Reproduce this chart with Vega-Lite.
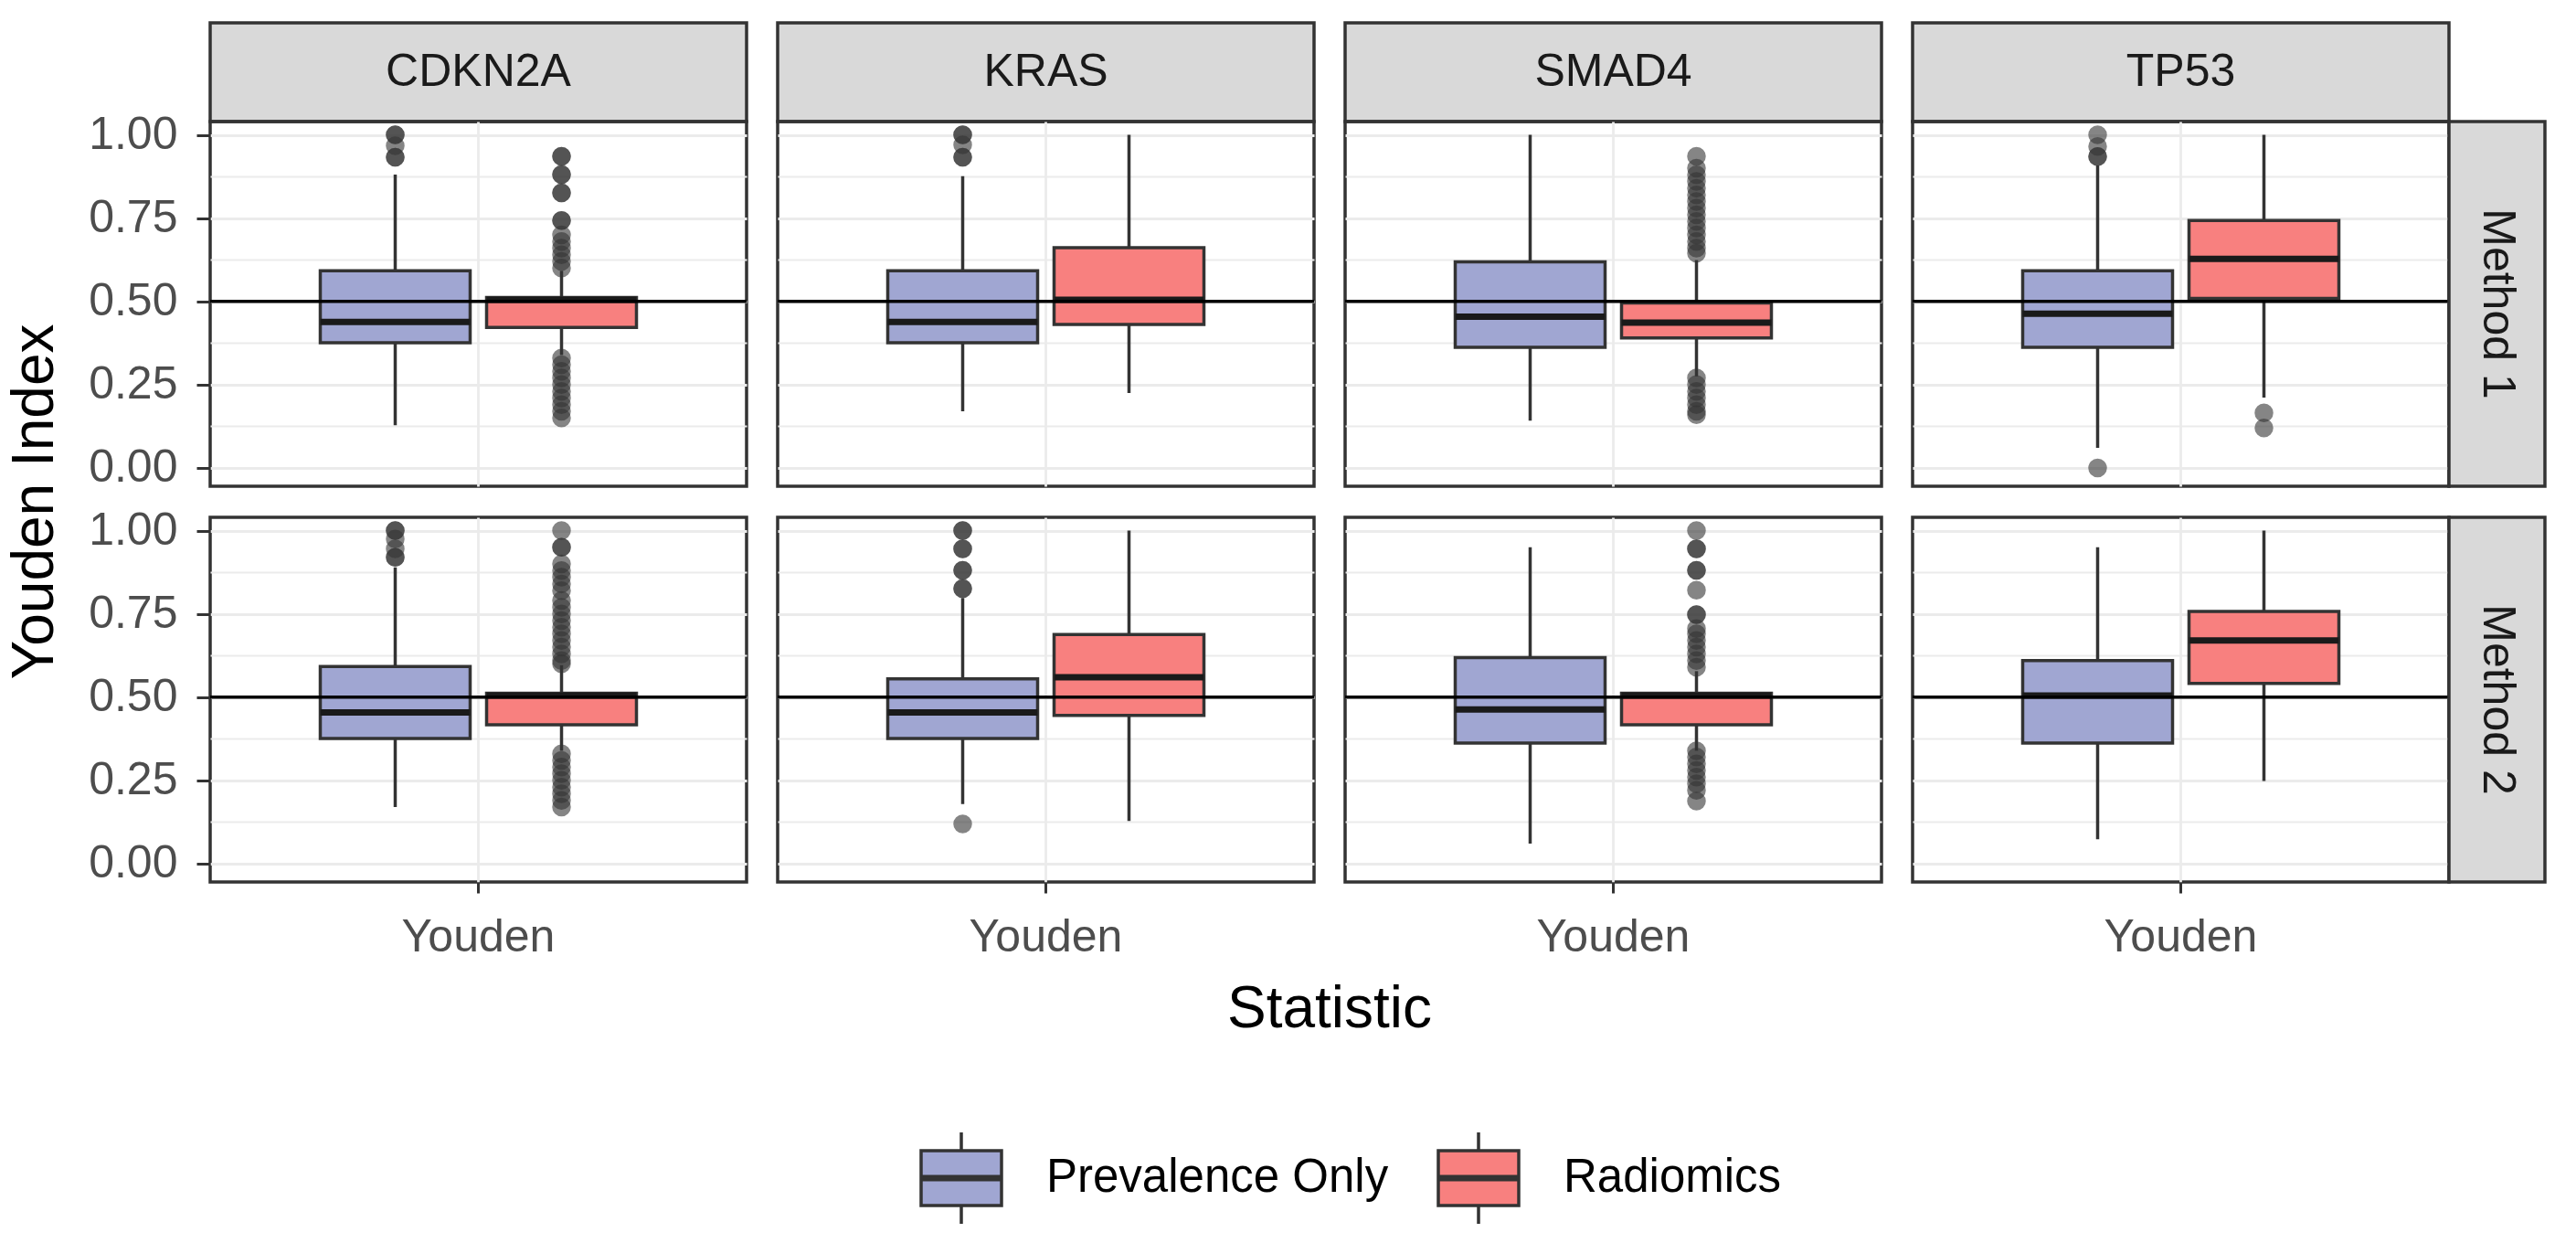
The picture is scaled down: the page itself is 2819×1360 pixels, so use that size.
{
"$schema": "https://vega.github.io/schema/vega-lite/v6.json",
"background": "white",
"padding": {"left": 6, "top": 23, "right": 5, "bottom": 5},
"columns": 8,
"spacing": 0,
"bounds": "flush",
"align": "each",
"datasets": {
"yi": [
{"gene":"CDKN2A","method":"Method 1","model":"Prevalence Only","stat":"Youden","kind":"box","lower":0.128,"q1":0.376,"median":0.438,"q3":0.592,"upper":0.881},
{"gene":"CDKN2A","method":"Method 1","model":"Radiomics","stat":"Youden","kind":"box","lower":0.339,"q1":0.422,"median":0.505,"q3":0.512,"upper":0.592},
{"gene":"KRAS","method":"Method 1","model":"Prevalence Only","stat":"Youden","kind":"box","lower":0.170,"q1":0.376,"median":0.438,"q3":0.592,"upper":0.876},
{"gene":"KRAS","method":"Method 1","model":"Radiomics","stat":"Youden","kind":"box","lower":0.225,"q1":0.431,"median":0.505,"q3":0.661,"upper":1.0},
{"gene":"SMAD4","method":"Method 1","model":"Prevalence Only","stat":"Youden","kind":"box","lower":0.142,"q1":0.362,"median":0.454,"q3":0.619,"upper":1.0},
{"gene":"SMAD4","method":"Method 1","model":"Radiomics","stat":"Youden","kind":"box","lower":0.275,"q1":0.390,"median":0.436,"q3":0.495,"upper":0.624},
{"gene":"TP53","method":"Method 1","model":"Prevalence Only","stat":"Youden","kind":"box","lower":0.060,"q1":0.362,"median":0.463,"q3":0.592,"upper":0.908},
{"gene":"TP53","method":"Method 1","model":"Radiomics","stat":"Youden","kind":"box","lower":0.211,"q1":0.509,"median":0.628,"q3":0.743,"upper":1.0},
{"gene":"CDKN2A","method":"Method 2","model":"Prevalence Only","stat":"Youden","kind":"box","lower":0.170,"q1":0.376,"median":0.454,"q3":0.592,"upper":0.890},
{"gene":"CDKN2A","method":"Method 2","model":"Radiomics","stat":"Youden","kind":"box","lower":0.339,"q1":0.417,"median":0.505,"q3":0.512,"upper":0.596},
{"gene":"KRAS","method":"Method 2","model":"Prevalence Only","stat":"Youden","kind":"box","lower":0.179,"q1":0.376,"median":0.454,"q3":0.555,"upper":0.798},
{"gene":"KRAS","method":"Method 2","model":"Radiomics","stat":"Youden","kind":"box","lower":0.128,"q1":0.445,"median":0.560,"q3":0.688,"upper":1.0},
{"gene":"SMAD4","method":"Method 2","model":"Prevalence Only","stat":"Youden","kind":"box","lower":0.060,"q1":0.362,"median":0.463,"q3":0.619,"upper":0.950},
{"gene":"SMAD4","method":"Method 2","model":"Radiomics","stat":"Youden","kind":"box","lower":0.339,"q1":0.417,"median":0.505,"q3":0.512,"upper":0.578},
{"gene":"TP53","method":"Method 2","model":"Prevalence Only","stat":"Youden","kind":"box","lower":0.073,"q1":0.362,"median":0.505,"q3":0.610,"upper":0.950},
{"gene":"TP53","method":"Method 2","model":"Radiomics","stat":"Youden","kind":"box","lower":0.248,"q1":0.541,"median":0.670,"q3":0.757,"upper":1.0},
{"gene":"CDKN2A","method":"Method 1","model":"Prevalence Only","stat":"Youden","kind":"out","value":1.0},
{"gene":"CDKN2A","method":"Method 1","model":"Prevalence Only","stat":"Youden","kind":"out","value":1.0},
{"gene":"CDKN2A","method":"Method 1","model":"Prevalence Only","stat":"Youden","kind":"out","value":0.967},
{"gene":"CDKN2A","method":"Method 1","model":"Prevalence Only","stat":"Youden","kind":"out","value":0.933},
{"gene":"CDKN2A","method":"Method 1","model":"Prevalence Only","stat":"Youden","kind":"out","value":0.933},
{"gene":"CDKN2A","method":"Method 1","model":"Radiomics","stat":"Youden","kind":"out","value":0.936},
{"gene":"CDKN2A","method":"Method 1","model":"Radiomics","stat":"Youden","kind":"out","value":0.936},
{"gene":"CDKN2A","method":"Method 1","model":"Radiomics","stat":"Youden","kind":"out","value":0.881},
{"gene":"CDKN2A","method":"Method 1","model":"Radiomics","stat":"Youden","kind":"out","value":0.881},
{"gene":"CDKN2A","method":"Method 1","model":"Radiomics","stat":"Youden","kind":"out","value":0.826},
{"gene":"CDKN2A","method":"Method 1","model":"Radiomics","stat":"Youden","kind":"out","value":0.826},
{"gene":"CDKN2A","method":"Method 1","model":"Radiomics","stat":"Youden","kind":"out","value":0.743},
{"gene":"CDKN2A","method":"Method 1","model":"Radiomics","stat":"Youden","kind":"out","value":0.743},
{"gene":"CDKN2A","method":"Method 1","model":"Radiomics","stat":"Youden","kind":"out","value":0.70},
{"gene":"CDKN2A","method":"Method 1","model":"Radiomics","stat":"Youden","kind":"out","value":0.68},
{"gene":"CDKN2A","method":"Method 1","model":"Radiomics","stat":"Youden","kind":"out","value":0.66},
{"gene":"CDKN2A","method":"Method 1","model":"Radiomics","stat":"Youden","kind":"out","value":0.64},
{"gene":"CDKN2A","method":"Method 1","model":"Radiomics","stat":"Youden","kind":"out","value":0.62},
{"gene":"CDKN2A","method":"Method 1","model":"Radiomics","stat":"Youden","kind":"out","value":0.60},
{"gene":"CDKN2A","method":"Method 1","model":"Radiomics","stat":"Youden","kind":"out","value":0.33},
{"gene":"CDKN2A","method":"Method 1","model":"Radiomics","stat":"Youden","kind":"out","value":0.31},
{"gene":"CDKN2A","method":"Method 1","model":"Radiomics","stat":"Youden","kind":"out","value":0.29},
{"gene":"CDKN2A","method":"Method 1","model":"Radiomics","stat":"Youden","kind":"out","value":0.27},
{"gene":"CDKN2A","method":"Method 1","model":"Radiomics","stat":"Youden","kind":"out","value":0.25},
{"gene":"CDKN2A","method":"Method 1","model":"Radiomics","stat":"Youden","kind":"out","value":0.23},
{"gene":"CDKN2A","method":"Method 1","model":"Radiomics","stat":"Youden","kind":"out","value":0.21},
{"gene":"CDKN2A","method":"Method 1","model":"Radiomics","stat":"Youden","kind":"out","value":0.19},
{"gene":"CDKN2A","method":"Method 1","model":"Radiomics","stat":"Youden","kind":"out","value":0.17},
{"gene":"CDKN2A","method":"Method 1","model":"Radiomics","stat":"Youden","kind":"out","value":0.15},
{"gene":"KRAS","method":"Method 1","model":"Prevalence Only","stat":"Youden","kind":"out","value":1.0},
{"gene":"KRAS","method":"Method 1","model":"Prevalence Only","stat":"Youden","kind":"out","value":1.0},
{"gene":"KRAS","method":"Method 1","model":"Prevalence Only","stat":"Youden","kind":"out","value":0.97},
{"gene":"KRAS","method":"Method 1","model":"Prevalence Only","stat":"Youden","kind":"out","value":0.933},
{"gene":"KRAS","method":"Method 1","model":"Prevalence Only","stat":"Youden","kind":"out","value":0.933},
{"gene":"SMAD4","method":"Method 1","model":"Radiomics","stat":"Youden","kind":"out","value":0.936},
{"gene":"SMAD4","method":"Method 1","model":"Radiomics","stat":"Youden","kind":"out","value":0.90},
{"gene":"SMAD4","method":"Method 1","model":"Radiomics","stat":"Youden","kind":"out","value":0.88},
{"gene":"SMAD4","method":"Method 1","model":"Radiomics","stat":"Youden","kind":"out","value":0.86},
{"gene":"SMAD4","method":"Method 1","model":"Radiomics","stat":"Youden","kind":"out","value":0.84},
{"gene":"SMAD4","method":"Method 1","model":"Radiomics","stat":"Youden","kind":"out","value":0.82},
{"gene":"SMAD4","method":"Method 1","model":"Radiomics","stat":"Youden","kind":"out","value":0.80},
{"gene":"SMAD4","method":"Method 1","model":"Radiomics","stat":"Youden","kind":"out","value":0.78},
{"gene":"SMAD4","method":"Method 1","model":"Radiomics","stat":"Youden","kind":"out","value":0.76},
{"gene":"SMAD4","method":"Method 1","model":"Radiomics","stat":"Youden","kind":"out","value":0.74},
{"gene":"SMAD4","method":"Method 1","model":"Radiomics","stat":"Youden","kind":"out","value":0.72},
{"gene":"SMAD4","method":"Method 1","model":"Radiomics","stat":"Youden","kind":"out","value":0.70},
{"gene":"SMAD4","method":"Method 1","model":"Radiomics","stat":"Youden","kind":"out","value":0.68},
{"gene":"SMAD4","method":"Method 1","model":"Radiomics","stat":"Youden","kind":"out","value":0.66},
{"gene":"SMAD4","method":"Method 1","model":"Radiomics","stat":"Youden","kind":"out","value":0.645},
{"gene":"SMAD4","method":"Method 1","model":"Radiomics","stat":"Youden","kind":"out","value":0.27},
{"gene":"SMAD4","method":"Method 1","model":"Radiomics","stat":"Youden","kind":"out","value":0.25},
{"gene":"SMAD4","method":"Method 1","model":"Radiomics","stat":"Youden","kind":"out","value":0.23},
{"gene":"SMAD4","method":"Method 1","model":"Radiomics","stat":"Youden","kind":"out","value":0.21},
{"gene":"SMAD4","method":"Method 1","model":"Radiomics","stat":"Youden","kind":"out","value":0.19},
{"gene":"SMAD4","method":"Method 1","model":"Radiomics","stat":"Youden","kind":"out","value":0.17},
{"gene":"SMAD4","method":"Method 1","model":"Radiomics","stat":"Youden","kind":"out","value":0.16},
{"gene":"TP53","method":"Method 1","model":"Prevalence Only","stat":"Youden","kind":"out","value":1.0},
{"gene":"TP53","method":"Method 1","model":"Prevalence Only","stat":"Youden","kind":"out","value":0.965},
{"gene":"TP53","method":"Method 1","model":"Prevalence Only","stat":"Youden","kind":"out","value":0.935},
{"gene":"TP53","method":"Method 1","model":"Prevalence Only","stat":"Youden","kind":"out","value":0.935},
{"gene":"TP53","method":"Method 1","model":"Prevalence Only","stat":"Youden","kind":"out","value":0.0},
{"gene":"TP53","method":"Method 1","model":"Radiomics","stat":"Youden","kind":"out","value":0.165},
{"gene":"TP53","method":"Method 1","model":"Radiomics","stat":"Youden","kind":"out","value":0.12},
{"gene":"CDKN2A","method":"Method 2","model":"Prevalence Only","stat":"Youden","kind":"out","value":1.0},
{"gene":"CDKN2A","method":"Method 2","model":"Prevalence Only","stat":"Youden","kind":"out","value":1.0},
{"gene":"CDKN2A","method":"Method 2","model":"Prevalence Only","stat":"Youden","kind":"out","value":0.975},
{"gene":"CDKN2A","method":"Method 2","model":"Prevalence Only","stat":"Youden","kind":"out","value":0.945},
{"gene":"CDKN2A","method":"Method 2","model":"Prevalence Only","stat":"Youden","kind":"out","value":0.92},
{"gene":"CDKN2A","method":"Method 2","model":"Prevalence Only","stat":"Youden","kind":"out","value":0.92},
{"gene":"CDKN2A","method":"Method 2","model":"Radiomics","stat":"Youden","kind":"out","value":1.0},
{"gene":"CDKN2A","method":"Method 2","model":"Radiomics","stat":"Youden","kind":"out","value":0.95},
{"gene":"CDKN2A","method":"Method 2","model":"Radiomics","stat":"Youden","kind":"out","value":0.95},
{"gene":"CDKN2A","method":"Method 2","model":"Radiomics","stat":"Youden","kind":"out","value":0.90},
{"gene":"CDKN2A","method":"Method 2","model":"Radiomics","stat":"Youden","kind":"out","value":0.88},
{"gene":"CDKN2A","method":"Method 2","model":"Radiomics","stat":"Youden","kind":"out","value":0.86},
{"gene":"CDKN2A","method":"Method 2","model":"Radiomics","stat":"Youden","kind":"out","value":0.84},
{"gene":"CDKN2A","method":"Method 2","model":"Radiomics","stat":"Youden","kind":"out","value":0.82},
{"gene":"CDKN2A","method":"Method 2","model":"Radiomics","stat":"Youden","kind":"out","value":0.79},
{"gene":"CDKN2A","method":"Method 2","model":"Radiomics","stat":"Youden","kind":"out","value":0.77},
{"gene":"CDKN2A","method":"Method 2","model":"Radiomics","stat":"Youden","kind":"out","value":0.75},
{"gene":"CDKN2A","method":"Method 2","model":"Radiomics","stat":"Youden","kind":"out","value":0.73},
{"gene":"CDKN2A","method":"Method 2","model":"Radiomics","stat":"Youden","kind":"out","value":0.71},
{"gene":"CDKN2A","method":"Method 2","model":"Radiomics","stat":"Youden","kind":"out","value":0.69},
{"gene":"CDKN2A","method":"Method 2","model":"Radiomics","stat":"Youden","kind":"out","value":0.67},
{"gene":"CDKN2A","method":"Method 2","model":"Radiomics","stat":"Youden","kind":"out","value":0.65},
{"gene":"CDKN2A","method":"Method 2","model":"Radiomics","stat":"Youden","kind":"out","value":0.63},
{"gene":"CDKN2A","method":"Method 2","model":"Radiomics","stat":"Youden","kind":"out","value":0.61},
{"gene":"CDKN2A","method":"Method 2","model":"Radiomics","stat":"Youden","kind":"out","value":0.60},
{"gene":"CDKN2A","method":"Method 2","model":"Radiomics","stat":"Youden","kind":"out","value":0.33},
{"gene":"CDKN2A","method":"Method 2","model":"Radiomics","stat":"Youden","kind":"out","value":0.31},
{"gene":"CDKN2A","method":"Method 2","model":"Radiomics","stat":"Youden","kind":"out","value":0.29},
{"gene":"CDKN2A","method":"Method 2","model":"Radiomics","stat":"Youden","kind":"out","value":0.27},
{"gene":"CDKN2A","method":"Method 2","model":"Radiomics","stat":"Youden","kind":"out","value":0.25},
{"gene":"CDKN2A","method":"Method 2","model":"Radiomics","stat":"Youden","kind":"out","value":0.23},
{"gene":"CDKN2A","method":"Method 2","model":"Radiomics","stat":"Youden","kind":"out","value":0.21},
{"gene":"CDKN2A","method":"Method 2","model":"Radiomics","stat":"Youden","kind":"out","value":0.19},
{"gene":"CDKN2A","method":"Method 2","model":"Radiomics","stat":"Youden","kind":"out","value":0.17},
{"gene":"KRAS","method":"Method 2","model":"Prevalence Only","stat":"Youden","kind":"out","value":1.0},
{"gene":"KRAS","method":"Method 2","model":"Prevalence Only","stat":"Youden","kind":"out","value":1.0},
{"gene":"KRAS","method":"Method 2","model":"Prevalence Only","stat":"Youden","kind":"out","value":0.945},
{"gene":"KRAS","method":"Method 2","model":"Prevalence Only","stat":"Youden","kind":"out","value":0.945},
{"gene":"KRAS","method":"Method 2","model":"Prevalence Only","stat":"Youden","kind":"out","value":0.881},
{"gene":"KRAS","method":"Method 2","model":"Prevalence Only","stat":"Youden","kind":"out","value":0.881},
{"gene":"KRAS","method":"Method 2","model":"Prevalence Only","stat":"Youden","kind":"out","value":0.826},
{"gene":"KRAS","method":"Method 2","model":"Prevalence Only","stat":"Youden","kind":"out","value":0.826},
{"gene":"KRAS","method":"Method 2","model":"Prevalence Only","stat":"Youden","kind":"out","value":0.119},
{"gene":"SMAD4","method":"Method 2","model":"Radiomics","stat":"Youden","kind":"out","value":1.0},
{"gene":"SMAD4","method":"Method 2","model":"Radiomics","stat":"Youden","kind":"out","value":0.945},
{"gene":"SMAD4","method":"Method 2","model":"Radiomics","stat":"Youden","kind":"out","value":0.945},
{"gene":"SMAD4","method":"Method 2","model":"Radiomics","stat":"Youden","kind":"out","value":0.881},
{"gene":"SMAD4","method":"Method 2","model":"Radiomics","stat":"Youden","kind":"out","value":0.881},
{"gene":"SMAD4","method":"Method 2","model":"Radiomics","stat":"Youden","kind":"out","value":0.821},
{"gene":"SMAD4","method":"Method 2","model":"Radiomics","stat":"Youden","kind":"out","value":0.748},
{"gene":"SMAD4","method":"Method 2","model":"Radiomics","stat":"Youden","kind":"out","value":0.748},
{"gene":"SMAD4","method":"Method 2","model":"Radiomics","stat":"Youden","kind":"out","value":0.706},
{"gene":"SMAD4","method":"Method 2","model":"Radiomics","stat":"Youden","kind":"out","value":0.69},
{"gene":"SMAD4","method":"Method 2","model":"Radiomics","stat":"Youden","kind":"out","value":0.67},
{"gene":"SMAD4","method":"Method 2","model":"Radiomics","stat":"Youden","kind":"out","value":0.65},
{"gene":"SMAD4","method":"Method 2","model":"Radiomics","stat":"Youden","kind":"out","value":0.63},
{"gene":"SMAD4","method":"Method 2","model":"Radiomics","stat":"Youden","kind":"out","value":0.61},
{"gene":"SMAD4","method":"Method 2","model":"Radiomics","stat":"Youden","kind":"out","value":0.59},
{"gene":"SMAD4","method":"Method 2","model":"Radiomics","stat":"Youden","kind":"out","value":0.339},
{"gene":"SMAD4","method":"Method 2","model":"Radiomics","stat":"Youden","kind":"out","value":0.32},
{"gene":"SMAD4","method":"Method 2","model":"Radiomics","stat":"Youden","kind":"out","value":0.30},
{"gene":"SMAD4","method":"Method 2","model":"Radiomics","stat":"Youden","kind":"out","value":0.28},
{"gene":"SMAD4","method":"Method 2","model":"Radiomics","stat":"Youden","kind":"out","value":0.26},
{"gene":"SMAD4","method":"Method 2","model":"Radiomics","stat":"Youden","kind":"out","value":0.24},
{"gene":"SMAD4","method":"Method 2","model":"Radiomics","stat":"Youden","kind":"out","value":0.22},
{"gene":"SMAD4","method":"Method 2","model":"Radiomics","stat":"Youden","kind":"out","value":0.188}
]
},
"concat": [
{"width":587,"height":108,"view":{"fill":"#D9D9D9","stroke":"#333333","strokeWidth":3.5},"data":{"values":[{"label":"CDKN2A"}]},"mark":{"type":"text","fontSize":50,"color":"#1A1A1A"},"encoding":{"text":{"field":"label"}}},
{"width":34,"height":108,"view":{"stroke":"transparent"},"data":{"values":[]},"mark":"point","encoding":{}},
{"width":587,"height":108,"view":{"fill":"#D9D9D9","stroke":"#333333","strokeWidth":3.5},"data":{"values":[{"label":"KRAS"}]},"mark":{"type":"text","fontSize":50,"color":"#1A1A1A"},"encoding":{"text":{"field":"label"}}},
{"width":34,"height":108,"view":{"stroke":"transparent"},"data":{"values":[]},"mark":"point","encoding":{}},
{"width":587,"height":108,"view":{"fill":"#D9D9D9","stroke":"#333333","strokeWidth":3.5},"data":{"values":[{"label":"SMAD4"}]},"mark":{"type":"text","fontSize":50,"color":"#1A1A1A"},"encoding":{"text":{"field":"label"}}},
{"width":34,"height":108,"view":{"stroke":"transparent"},"data":{"values":[]},"mark":"point","encoding":{}},
{"width":587,"height":108,"view":{"fill":"#D9D9D9","stroke":"#333333","strokeWidth":3.5},"data":{"values":[{"label":"TP53"}]},"mark":{"type":"text","fontSize":50,"color":"#1A1A1A"},"encoding":{"text":{"field":"label"}}},
{"width":105,"height":108,"view":{"stroke":"transparent"},"data":{"values":[]},"mark":"point","encoding":{}},

{"width":587,"height":399,"data":{"name":"yi"},"transform":[{"filter":"datum.gene === 'CDKN2A' && datum.method === 'Method 1'"}],
"layer":[
{"transform":[{"filter":"datum.kind === 'box'"}],"mark":{"type":"rule","color":"#333333","strokeWidth":3.5},
"encoding":{"x":{"field":"stat","type":"nominal","title":null,"scale":{"paddingInner":0,"paddingOuter":0.3063},"axis":{"title":null,"labels":false,"ticks":false,"grid":true,"gridWidth":2.8,"bandPosition":0.5,"labelAngle":0}},
"xOffset":{"field":"model","type":"nominal","scale":{"domain":["Prevalence Only","Radiomics"],"paddingInner":0,"paddingOuter":0}},
"y":{"field":"lower","type":"quantitative","title":null,"scale":{"domain":[-0.055,1.04],"nice":false,"zero":false},
"axis":{"title":null,"values":[0,0.125,0.25,0.375,0.5,0.625,0.75,0.875,1],"labelOverlap":false,"labelExpr":"abs(datum.value*4-round(datum.value*4))<0.01 ? format(datum.value,'.2f') : ''","tickOpacity":{"condition":{"test":"abs(datum.value*4-round(datum.value*4))>0.01","value":0},"value":1},"gridWidth":{"condition":{"test":"abs(datum.value*4-round(datum.value*4))>0.01","value":1.8},"value":2.8}}},
"y2":{"field":"upper"}}},
{"transform":[{"filter":"datum.kind === 'box'"}],"mark":{"type":"bar","stroke":"#333333","strokeWidth":3.5,"width":164},
"encoding":{"x":{"field":"stat","type":"nominal","title":null},"xOffset":{"field":"model","type":"nominal"},"y":{"field":"q1","type":"quantitative","title":null},"y2":{"field":"q3"},
"fill":{"field":"model","type":"nominal","title":null,"scale":{"domain":["Prevalence Only","Radiomics"],"range":["#A0A6D2","#F8807F"]},"legend":{"orient":"none","legendX":770,"legendY":1212,"direction":"horizontal","labelLimit":0}}}},
{"transform":[{"filter":"datum.kind === 'box'"}],"mark":{"type":"tick","color":"#1A1A1A","thickness":7,"size":164,"opacity":1},
"encoding":{"x":{"field":"stat","type":"nominal","title":null},"xOffset":{"field":"model","type":"nominal"},"y":{"field":"median","type":"quantitative","title":null}}},
{"transform":[{"filter":"datum.kind === 'out'"}],"mark":{"type":"point","filled":true,"size":420,"color":"#333333","opacity":0.6,"strokeWidth":0},
"encoding":{"x":{"field":"stat","type":"nominal","title":null},"xOffset":{"field":"model","type":"nominal"},"y":{"field":"value","type":"quantitative","title":null}}},
{"transform":[{"filter":"datum.kind === 'box' && datum.model === 'Radiomics'"}],"mark":{"type":"rule","color":"#000000","strokeWidth":3.5},
"encoding":{"y":{"datum":0.5,"type":"quantitative","title":null}}}
]},
{"width":34,"height":399,"view":{"stroke":"transparent"},"data":{"values":[]},"mark":"point","encoding":{}},

{"width":587,"height":399,"data":{"name":"yi"},"transform":[{"filter":"datum.gene === 'KRAS' && datum.method === 'Method 1'"}],
"layer":[
{"transform":[{"filter":"datum.kind === 'box'"}],"mark":{"type":"rule","color":"#333333","strokeWidth":3.5},
"encoding":{"x":{"field":"stat","type":"nominal","title":null,"scale":{"paddingInner":0,"paddingOuter":0.3063},"axis":{"title":null,"labels":false,"ticks":false,"grid":true,"gridWidth":2.8,"bandPosition":0.5,"labelAngle":0}},
"xOffset":{"field":"model","type":"nominal","scale":{"domain":["Prevalence Only","Radiomics"],"paddingInner":0,"paddingOuter":0}},
"y":{"field":"lower","type":"quantitative","title":null,"scale":{"domain":[-0.055,1.04],"nice":false,"zero":false},
"axis":{"title":null,"labels":false,"ticks":false,"values":[0,0.125,0.25,0.375,0.5,0.625,0.75,0.875,1],"gridWidth":{"condition":{"test":"abs(datum.value*4-round(datum.value*4))>0.01","value":1.8},"value":2.8}}},
"y2":{"field":"upper"}}},
{"transform":[{"filter":"datum.kind === 'box'"}],"mark":{"type":"bar","stroke":"#333333","strokeWidth":3.5,"width":164},
"encoding":{"x":{"field":"stat","type":"nominal","title":null},"xOffset":{"field":"model","type":"nominal"},"y":{"field":"q1","type":"quantitative","title":null},"y2":{"field":"q3"},
"fill":{"field":"model","type":"nominal","title":null,"scale":{"domain":["Prevalence Only","Radiomics"],"range":["#A0A6D2","#F8807F"]}}}},
{"transform":[{"filter":"datum.kind === 'box'"}],"mark":{"type":"tick","color":"#1A1A1A","thickness":7,"size":164,"opacity":1},
"encoding":{"x":{"field":"stat","type":"nominal","title":null},"xOffset":{"field":"model","type":"nominal"},"y":{"field":"median","type":"quantitative","title":null}}},
{"transform":[{"filter":"datum.kind === 'out'"}],"mark":{"type":"point","filled":true,"size":420,"color":"#333333","opacity":0.6,"strokeWidth":0},
"encoding":{"x":{"field":"stat","type":"nominal","title":null},"xOffset":{"field":"model","type":"nominal"},"y":{"field":"value","type":"quantitative","title":null}}},
{"transform":[{"filter":"datum.kind === 'box' && datum.model === 'Radiomics'"}],"mark":{"type":"rule","color":"#000000","strokeWidth":3.5},
"encoding":{"y":{"datum":0.5,"type":"quantitative","title":null}}}
]},
{"width":34,"height":399,"view":{"stroke":"transparent"},"data":{"values":[]},"mark":"point","encoding":{}},

{"width":587,"height":399,"data":{"name":"yi"},"transform":[{"filter":"datum.gene === 'SMAD4' && datum.method === 'Method 1'"}],
"layer":[
{"transform":[{"filter":"datum.kind === 'box'"}],"mark":{"type":"rule","color":"#333333","strokeWidth":3.5},
"encoding":{"x":{"field":"stat","type":"nominal","title":null,"scale":{"paddingInner":0,"paddingOuter":0.3063},"axis":{"title":null,"labels":false,"ticks":false,"grid":true,"gridWidth":2.8,"bandPosition":0.5,"labelAngle":0}},
"xOffset":{"field":"model","type":"nominal","scale":{"domain":["Prevalence Only","Radiomics"],"paddingInner":0,"paddingOuter":0}},
"y":{"field":"lower","type":"quantitative","title":null,"scale":{"domain":[-0.055,1.04],"nice":false,"zero":false},
"axis":{"title":null,"labels":false,"ticks":false,"values":[0,0.125,0.25,0.375,0.5,0.625,0.75,0.875,1],"gridWidth":{"condition":{"test":"abs(datum.value*4-round(datum.value*4))>0.01","value":1.8},"value":2.8}}},
"y2":{"field":"upper"}}},
{"transform":[{"filter":"datum.kind === 'box'"}],"mark":{"type":"bar","stroke":"#333333","strokeWidth":3.5,"width":164},
"encoding":{"x":{"field":"stat","type":"nominal","title":null},"xOffset":{"field":"model","type":"nominal"},"y":{"field":"q1","type":"quantitative","title":null},"y2":{"field":"q3"},
"fill":{"field":"model","type":"nominal","title":null,"scale":{"domain":["Prevalence Only","Radiomics"],"range":["#A0A6D2","#F8807F"]}}}},
{"transform":[{"filter":"datum.kind === 'box'"}],"mark":{"type":"tick","color":"#1A1A1A","thickness":7,"size":164,"opacity":1},
"encoding":{"x":{"field":"stat","type":"nominal","title":null},"xOffset":{"field":"model","type":"nominal"},"y":{"field":"median","type":"quantitative","title":null}}},
{"transform":[{"filter":"datum.kind === 'out'"}],"mark":{"type":"point","filled":true,"size":420,"color":"#333333","opacity":0.6,"strokeWidth":0},
"encoding":{"x":{"field":"stat","type":"nominal","title":null},"xOffset":{"field":"model","type":"nominal"},"y":{"field":"value","type":"quantitative","title":null}}},
{"transform":[{"filter":"datum.kind === 'box' && datum.model === 'Radiomics'"}],"mark":{"type":"rule","color":"#000000","strokeWidth":3.5},
"encoding":{"y":{"datum":0.5,"type":"quantitative","title":null}}}
]},
{"width":34,"height":399,"view":{"stroke":"transparent"},"data":{"values":[]},"mark":"point","encoding":{}},

{"width":587,"height":399,"data":{"name":"yi"},"transform":[{"filter":"datum.gene === 'TP53' && datum.method === 'Method 1'"}],
"layer":[
{"transform":[{"filter":"datum.kind === 'box'"}],"mark":{"type":"rule","color":"#333333","strokeWidth":3.5},
"encoding":{"x":{"field":"stat","type":"nominal","title":null,"scale":{"paddingInner":0,"paddingOuter":0.3063},"axis":{"title":null,"labels":false,"ticks":false,"grid":true,"gridWidth":2.8,"bandPosition":0.5,"labelAngle":0}},
"xOffset":{"field":"model","type":"nominal","scale":{"domain":["Prevalence Only","Radiomics"],"paddingInner":0,"paddingOuter":0}},
"y":{"field":"lower","type":"quantitative","title":null,"scale":{"domain":[-0.055,1.04],"nice":false,"zero":false},
"axis":{"title":null,"labels":false,"ticks":false,"values":[0,0.125,0.25,0.375,0.5,0.625,0.75,0.875,1],"gridWidth":{"condition":{"test":"abs(datum.value*4-round(datum.value*4))>0.01","value":1.8},"value":2.8}}},
"y2":{"field":"upper"}}},
{"transform":[{"filter":"datum.kind === 'box'"}],"mark":{"type":"bar","stroke":"#333333","strokeWidth":3.5,"width":164},
"encoding":{"x":{"field":"stat","type":"nominal","title":null},"xOffset":{"field":"model","type":"nominal"},"y":{"field":"q1","type":"quantitative","title":null},"y2":{"field":"q3"},
"fill":{"field":"model","type":"nominal","title":null,"scale":{"domain":["Prevalence Only","Radiomics"],"range":["#A0A6D2","#F8807F"]}}}},
{"transform":[{"filter":"datum.kind === 'box'"}],"mark":{"type":"tick","color":"#1A1A1A","thickness":7,"size":164,"opacity":1},
"encoding":{"x":{"field":"stat","type":"nominal","title":null},"xOffset":{"field":"model","type":"nominal"},"y":{"field":"median","type":"quantitative","title":null}}},
{"transform":[{"filter":"datum.kind === 'out'"}],"mark":{"type":"point","filled":true,"size":420,"color":"#333333","opacity":0.6,"strokeWidth":0},
"encoding":{"x":{"field":"stat","type":"nominal","title":null},"xOffset":{"field":"model","type":"nominal"},"y":{"field":"value","type":"quantitative","title":null}}},
{"transform":[{"filter":"datum.kind === 'box' && datum.model === 'Radiomics'"}],"mark":{"type":"rule","color":"#000000","strokeWidth":3.5},
"encoding":{"y":{"datum":0.5,"type":"quantitative","title":null}}}
]},
{"width":105,"height":399,"view":{"fill":"#D9D9D9","stroke":"#333333","strokeWidth":3.5},"data":{"values":[{"label":"Method 1"}]},"mark":{"type":"text","fontSize":50,"angle":90,"color":"#1A1A1A"},"encoding":{"text":{"field":"label"}}},

{"width":1,"height":34,"view":{"stroke":"transparent"},"title":{"text":"Youden Index","orient":"left","anchor":"middle","frame":"group","offset":108,"baseline":"alphabetic","fontSize":64,"fontWeight":"normal","color":"#000000"},"data":{"values":[]},"mark":"point","encoding":{}},
{"width":1,"height":34,"view":{"stroke":"transparent"},"data":{"values":[]},"mark":"point","encoding":{}},
{"width":1,"height":34,"view":{"stroke":"transparent"},"data":{"values":[]},"mark":"point","encoding":{}},
{"width":1,"height":34,"view":{"stroke":"transparent"},"data":{"values":[]},"mark":"point","encoding":{}},
{"width":1,"height":34,"view":{"stroke":"transparent"},"data":{"values":[]},"mark":"point","encoding":{}},
{"width":1,"height":34,"view":{"stroke":"transparent"},"data":{"values":[]},"mark":"point","encoding":{}},
{"width":1,"height":34,"view":{"stroke":"transparent"},"data":{"values":[]},"mark":"point","encoding":{}},
{"width":1,"height":34,"view":{"stroke":"transparent"},"data":{"values":[]},"mark":"point","encoding":{}},

{"width":587,"height":399,"data":{"name":"yi"},"transform":[{"filter":"datum.gene === 'CDKN2A' && datum.method === 'Method 2'"}],
"layer":[
{"transform":[{"filter":"datum.kind === 'box'"}],"mark":{"type":"rule","color":"#333333","strokeWidth":3.5},
"encoding":{"x":{"field":"stat","type":"nominal","title":null,"scale":{"paddingInner":0,"paddingOuter":0.3063},"axis":{"title":null,"labels":true,"ticks":true,"grid":true,"gridWidth":2.8,"bandPosition":0.5,"labelAngle":0}},
"xOffset":{"field":"model","type":"nominal","scale":{"domain":["Prevalence Only","Radiomics"],"paddingInner":0,"paddingOuter":0}},
"y":{"field":"lower","type":"quantitative","title":null,"scale":{"domain":[-0.055,1.04],"nice":false,"zero":false},
"axis":{"title":null,"values":[0,0.125,0.25,0.375,0.5,0.625,0.75,0.875,1],"labelOverlap":false,"labelExpr":"abs(datum.value*4-round(datum.value*4))<0.01 ? format(datum.value,'.2f') : ''","tickOpacity":{"condition":{"test":"abs(datum.value*4-round(datum.value*4))>0.01","value":0},"value":1},"gridWidth":{"condition":{"test":"abs(datum.value*4-round(datum.value*4))>0.01","value":1.8},"value":2.8}}},
"y2":{"field":"upper"}}},
{"transform":[{"filter":"datum.kind === 'box'"}],"mark":{"type":"bar","stroke":"#333333","strokeWidth":3.5,"width":164},
"encoding":{"x":{"field":"stat","type":"nominal","title":null},"xOffset":{"field":"model","type":"nominal"},"y":{"field":"q1","type":"quantitative","title":null},"y2":{"field":"q3"},
"fill":{"field":"model","type":"nominal","title":null,"scale":{"domain":["Prevalence Only","Radiomics"],"range":["#A0A6D2","#F8807F"]}}}},
{"transform":[{"filter":"datum.kind === 'box'"}],"mark":{"type":"tick","color":"#1A1A1A","thickness":7,"size":164,"opacity":1},
"encoding":{"x":{"field":"stat","type":"nominal","title":null},"xOffset":{"field":"model","type":"nominal"},"y":{"field":"median","type":"quantitative","title":null}}},
{"transform":[{"filter":"datum.kind === 'out'"}],"mark":{"type":"point","filled":true,"size":420,"color":"#333333","opacity":0.6,"strokeWidth":0},
"encoding":{"x":{"field":"stat","type":"nominal","title":null},"xOffset":{"field":"model","type":"nominal"},"y":{"field":"value","type":"quantitative","title":null}}},
{"transform":[{"filter":"datum.kind === 'box' && datum.model === 'Radiomics'"}],"mark":{"type":"rule","color":"#000000","strokeWidth":3.5},
"encoding":{"y":{"datum":0.5,"type":"quantitative","title":null}}}
]},
{"width":34,"height":399,"view":{"stroke":"transparent"},"data":{"values":[]},"mark":"point","encoding":{}},

{"width":587,"height":399,"data":{"name":"yi"},"transform":[{"filter":"datum.gene === 'KRAS' && datum.method === 'Method 2'"}],
"layer":[
{"transform":[{"filter":"datum.kind === 'box'"}],"mark":{"type":"rule","color":"#333333","strokeWidth":3.5},
"encoding":{"x":{"field":"stat","type":"nominal","title":null,"scale":{"paddingInner":0,"paddingOuter":0.3063},"axis":{"title":null,"labels":true,"ticks":true,"grid":true,"gridWidth":2.8,"bandPosition":0.5,"labelAngle":0}},
"xOffset":{"field":"model","type":"nominal","scale":{"domain":["Prevalence Only","Radiomics"],"paddingInner":0,"paddingOuter":0}},
"y":{"field":"lower","type":"quantitative","title":null,"scale":{"domain":[-0.055,1.04],"nice":false,"zero":false},
"axis":{"title":null,"labels":false,"ticks":false,"values":[0,0.125,0.25,0.375,0.5,0.625,0.75,0.875,1],"gridWidth":{"condition":{"test":"abs(datum.value*4-round(datum.value*4))>0.01","value":1.8},"value":2.8}}},
"y2":{"field":"upper"}}},
{"transform":[{"filter":"datum.kind === 'box'"}],"mark":{"type":"bar","stroke":"#333333","strokeWidth":3.5,"width":164},
"encoding":{"x":{"field":"stat","type":"nominal","title":null},"xOffset":{"field":"model","type":"nominal"},"y":{"field":"q1","type":"quantitative","title":null},"y2":{"field":"q3"},
"fill":{"field":"model","type":"nominal","title":null,"scale":{"domain":["Prevalence Only","Radiomics"],"range":["#A0A6D2","#F8807F"]}}}},
{"transform":[{"filter":"datum.kind === 'box'"}],"mark":{"type":"tick","color":"#1A1A1A","thickness":7,"size":164,"opacity":1},
"encoding":{"x":{"field":"stat","type":"nominal","title":null},"xOffset":{"field":"model","type":"nominal"},"y":{"field":"median","type":"quantitative","title":null}}},
{"transform":[{"filter":"datum.kind === 'out'"}],"mark":{"type":"point","filled":true,"size":420,"color":"#333333","opacity":0.6,"strokeWidth":0},
"encoding":{"x":{"field":"stat","type":"nominal","title":null},"xOffset":{"field":"model","type":"nominal"},"y":{"field":"value","type":"quantitative","title":null}}},
{"transform":[{"filter":"datum.kind === 'box' && datum.model === 'Radiomics'"}],"mark":{"type":"rule","color":"#000000","strokeWidth":3.5},
"encoding":{"y":{"datum":0.5,"type":"quantitative","title":null}}}
]},
{"width":34,"height":399,"view":{"stroke":"transparent"},"title":{"text":"Statistic","orient":"bottom","anchor":"middle","frame":"group","offset":159,"baseline":"alphabetic","fontSize":64,"fontWeight":"normal","color":"#000000"},"data":{"values":[]},"mark":"point","encoding":{}},

{"width":587,"height":399,"data":{"name":"yi"},"transform":[{"filter":"datum.gene === 'SMAD4' && datum.method === 'Method 2'"}],
"layer":[
{"transform":[{"filter":"datum.kind === 'box'"}],"mark":{"type":"rule","color":"#333333","strokeWidth":3.5},
"encoding":{"x":{"field":"stat","type":"nominal","title":null,"scale":{"paddingInner":0,"paddingOuter":0.3063},"axis":{"title":null,"labels":true,"ticks":true,"grid":true,"gridWidth":2.8,"bandPosition":0.5,"labelAngle":0}},
"xOffset":{"field":"model","type":"nominal","scale":{"domain":["Prevalence Only","Radiomics"],"paddingInner":0,"paddingOuter":0}},
"y":{"field":"lower","type":"quantitative","title":null,"scale":{"domain":[-0.055,1.04],"nice":false,"zero":false},
"axis":{"title":null,"labels":false,"ticks":false,"values":[0,0.125,0.25,0.375,0.5,0.625,0.75,0.875,1],"gridWidth":{"condition":{"test":"abs(datum.value*4-round(datum.value*4))>0.01","value":1.8},"value":2.8}}},
"y2":{"field":"upper"}}},
{"transform":[{"filter":"datum.kind === 'box'"}],"mark":{"type":"bar","stroke":"#333333","strokeWidth":3.5,"width":164},
"encoding":{"x":{"field":"stat","type":"nominal","title":null},"xOffset":{"field":"model","type":"nominal"},"y":{"field":"q1","type":"quantitative","title":null},"y2":{"field":"q3"},
"fill":{"field":"model","type":"nominal","title":null,"scale":{"domain":["Prevalence Only","Radiomics"],"range":["#A0A6D2","#F8807F"]}}}},
{"transform":[{"filter":"datum.kind === 'box'"}],"mark":{"type":"tick","color":"#1A1A1A","thickness":7,"size":164,"opacity":1},
"encoding":{"x":{"field":"stat","type":"nominal","title":null},"xOffset":{"field":"model","type":"nominal"},"y":{"field":"median","type":"quantitative","title":null}}},
{"transform":[{"filter":"datum.kind === 'out'"}],"mark":{"type":"point","filled":true,"size":420,"color":"#333333","opacity":0.6,"strokeWidth":0},
"encoding":{"x":{"field":"stat","type":"nominal","title":null},"xOffset":{"field":"model","type":"nominal"},"y":{"field":"value","type":"quantitative","title":null}}},
{"transform":[{"filter":"datum.kind === 'box' && datum.model === 'Radiomics'"}],"mark":{"type":"rule","color":"#000000","strokeWidth":3.5},
"encoding":{"y":{"datum":0.5,"type":"quantitative","title":null}}}
]},
{"width":34,"height":399,"view":{"stroke":"transparent"},"data":{"values":[]},"mark":"point","encoding":{}},

{"width":587,"height":399,"data":{"name":"yi"},"transform":[{"filter":"datum.gene === 'TP53' && datum.method === 'Method 2'"}],
"layer":[
{"transform":[{"filter":"datum.kind === 'box'"}],"mark":{"type":"rule","color":"#333333","strokeWidth":3.5},
"encoding":{"x":{"field":"stat","type":"nominal","title":null,"scale":{"paddingInner":0,"paddingOuter":0.3063},"axis":{"title":null,"labels":true,"ticks":true,"grid":true,"gridWidth":2.8,"bandPosition":0.5,"labelAngle":0}},
"xOffset":{"field":"model","type":"nominal","scale":{"domain":["Prevalence Only","Radiomics"],"paddingInner":0,"paddingOuter":0}},
"y":{"field":"lower","type":"quantitative","title":null,"scale":{"domain":[-0.055,1.04],"nice":false,"zero":false},
"axis":{"title":null,"labels":false,"ticks":false,"values":[0,0.125,0.25,0.375,0.5,0.625,0.75,0.875,1],"gridWidth":{"condition":{"test":"abs(datum.value*4-round(datum.value*4))>0.01","value":1.8},"value":2.8}}},
"y2":{"field":"upper"}}},
{"transform":[{"filter":"datum.kind === 'box'"}],"mark":{"type":"bar","stroke":"#333333","strokeWidth":3.5,"width":164},
"encoding":{"x":{"field":"stat","type":"nominal","title":null},"xOffset":{"field":"model","type":"nominal"},"y":{"field":"q1","type":"quantitative","title":null},"y2":{"field":"q3"},
"fill":{"field":"model","type":"nominal","title":null,"scale":{"domain":["Prevalence Only","Radiomics"],"range":["#A0A6D2","#F8807F"]}}}},
{"transform":[{"filter":"datum.kind === 'box'"}],"mark":{"type":"tick","color":"#1A1A1A","thickness":7,"size":164,"opacity":1},
"encoding":{"x":{"field":"stat","type":"nominal","title":null},"xOffset":{"field":"model","type":"nominal"},"y":{"field":"median","type":"quantitative","title":null}}},
{"transform":[{"filter":"datum.kind === 'out'"}],"mark":{"type":"point","filled":true,"size":420,"color":"#333333","opacity":0.6,"strokeWidth":0},
"encoding":{"x":{"field":"stat","type":"nominal","title":null},"xOffset":{"field":"model","type":"nominal"},"y":{"field":"value","type":"quantitative","title":null}}},
{"transform":[{"filter":"datum.kind === 'box' && datum.model === 'Radiomics'"}],"mark":{"type":"rule","color":"#000000","strokeWidth":3.5},
"encoding":{"y":{"datum":0.5,"type":"quantitative","title":null}}}
]},
{"width":105,"height":399,"view":{"fill":"#D9D9D9","stroke":"#333333","strokeWidth":3.5},"data":{"values":[{"label":"Method 2"}]},"mark":{"type":"text","fontSize":50,"angle":90,"color":"#1A1A1A"},"encoding":{"text":{"field":"label"}}}
],
"config": {
"font": "Liberation Sans",
"view": {"stroke": "#333333", "strokeWidth": 3.5},
"axis": {"domain": false, "gridColor": "#EBEBEB", "tickColor": "#333333", "tickWidth": 3, "labelColor": "#4D4D4D", "labelFontSize": 50, "labelFont": "Liberation Sans"},
"axisY": {"tickSize": 15, "labelPadding": 21},
"axisX": {"tickSize": 12, "labelPadding": 23},
"title": {"fontWeight": "normal", "font": "Liberation Sans"},
"legend": {"orient": "none", "legendX": 770, "legendY": 1212, "direction": "horizontal",
"symbolType": "M-0.88,-0.6H0.88V0.6H-0.88Z M-0.88,-0.035H0.88V0.035H-0.88Z M0,-0.6V-1 M0,0.6V1",
"symbolSize": 10000, "symbolStrokeColor": "#333333", "symbolStrokeWidth": 3.5, "symbolOpacity": 1, "labelLimit": 0,
"labelFontSize": 51, "labelColor": "#000000", "labelFont": "Liberation Sans", "labelOffset": 41, "columnPadding": 46}
}
}
